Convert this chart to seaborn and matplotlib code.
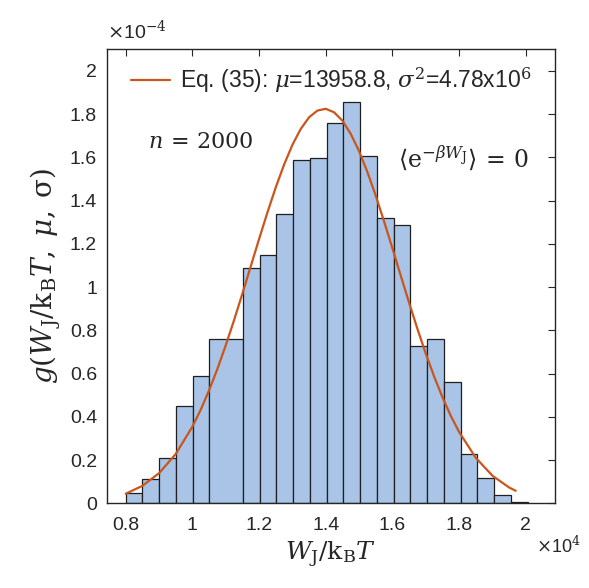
import numpy as np
import matplotlib
matplotlib.use("Agg")
import matplotlib.pyplot as plt
import seaborn as sns

# histogram (x in units of 1e4, density in units of 1e-4)
bin_edges = [0.8, 0.85025, 0.9005, 0.95075, 1.001, 1.05125, 1.15175, 1.202,
             1.25225, 1.3025, 1.35275, 1.403, 1.45325, 1.5035, 1.55375, 1.604,
             1.65425, 1.7045, 1.75475, 1.805, 1.85525, 1.9055, 1.95575, 2.006]
bar_heights = [0.046, 0.111, 0.208, 0.448, 0.590, 0.759, 1.088, 1.150, 1.340,
               1.590, 1.597, 1.759, 1.858, 1.608, 1.319, 1.289, 0.728, 0.759,
               0.559, 0.228, 0.119, 0.039, 0.005]

# Eq. (35) curve
curve_x = [0.80, 0.85, 0.90, 0.95, 1.00, 1.025, 1.05, 1.075, 1.10, 1.125,
           1.15, 1.175, 1.20, 1.225, 1.25, 1.275, 1.30, 1.325, 1.35, 1.375,
           1.40, 1.425, 1.45, 1.475, 1.50, 1.525, 1.55, 1.575, 1.60, 1.625,
           1.65, 1.675, 1.70, 1.725, 1.75, 1.775, 1.80, 1.85, 1.90, 1.95, 1.97]
curve_y = [0.0445, 0.0808, 0.1394, 0.2281, 0.3543, 0.4328, 0.5221, 0.6215,
           0.7304, 0.8470, 0.9696, 1.0954, 1.2217, 1.3445, 1.4607, 1.5661,
           1.6577, 1.7313, 1.7853, 1.8164, 1.8247, 1.8086, 1.7699, 1.7091,
           1.6294, 1.5328, 1.4235, 1.3045, 1.1804, 1.0538, 0.9288, 0.8078,
           0.6937, 0.5877, 0.4917, 0.4058, 0.3307, 0.2111, 0.1279, 0.0735,
           0.0581]

x_ticks = [0.8, 1.0, 1.2, 1.4, 1.6, 1.8, 2.0]
x_ticklabels = ['0.8', '1', '1.2', '1.4', '1.6', '1.8', '2']
y_ticks = [0, 0.2, 0.4, 0.6, 0.8, 1.0, 1.2, 1.4, 1.6, 1.8, 2.0]
y_ticklabels = ['0', '0.2', '0.4', '0.6', '0.8', '1', '1.2', '1.4', '1.6', '1.8', '2']

sns.set_style("white")
plt.rcParams['font.family'] = ['Liberation Sans', 'DejaVu Sans']
plt.rcParams['mathtext.fontset'] = 'dejavuserif'

axcol = '#262626'
fig = plt.figure(figsize=(5.89, 5.88), dpi=100)
ax = fig.add_axes([0.1812, 0.1440, 0.7611, 0.7722])

centers = [(bin_edges[i] + bin_edges[i + 1]) / 2 for i in range(len(bar_heights))]
sns.histplot(x=centers, weights=bar_heights, bins=bin_edges, stat='count',
             color='#A9C4E6', alpha=1, edgecolor='#1f1f1f', linewidth=0.9, ax=ax)
sns.lineplot(x=curve_x, y=curve_y, color='#C9561C', lw=1.6, sort=False, ax=ax,
             label=r'Eq. (35): $\mu$=13958.8, $\sigma^2$=4.78x10$^6$')

ax.set_xlim(0.743, 2.088)
ax.set_ylim(0, 2.1)
ax.set_xticks(x_ticks)
ax.set_xticklabels(x_ticklabels)
ax.set_yticks(y_ticks)
ax.set_yticklabels(y_ticklabels)
ax.tick_params(direction='in', length=5, width=0.8, colors=axcol, labelsize=14,
               top=True, right=True)
ax.tick_params(axis='x', pad=10)
ax.tick_params(axis='y', pad=7)
for s in ax.spines.values():
    s.set_visible(True)
    s.set_color(axcol)
    s.set_linewidth(1.0)

ax.set_xlabel(r'$W_\mathrm{J}/\mathrm{k_B}T$', fontsize=18, labelpad=4)
ax.set_ylabel(r'$g(W_\mathrm{J}/\mathrm{k_B}T,\;\mu,\;\mathrm{\sigma})$', fontsize=20,
              labelpad=5)

ax.text(0.0, 1.015, r'$\times$10$^{-4}$', transform=ax.transAxes, fontsize=14,
        color=axcol, ha='left', va='bottom')
ax.text(0.958, -0.07, r'$\times$10$^{4}$', transform=ax.transAxes, fontsize=13,
        color=axcol, ha='left', va='top')

ax.text(0.868, 1.668, r'$n\,=\,2000$', fontsize=16, ha='left', va='center')
ax.text(1.618, 1.60, r'$\langle\mathrm{e}^{-\beta W_\mathrm{J}}\rangle\,=\,0$',
        fontsize=17, ha='left', va='center')

ax.legend(loc='upper left', bbox_to_anchor=(0.008, 1.01), frameon=False,
          fontsize=16.5, handlelength=1.7, handletextpad=0.45)

fig.savefig('out.png', dpi=100)
